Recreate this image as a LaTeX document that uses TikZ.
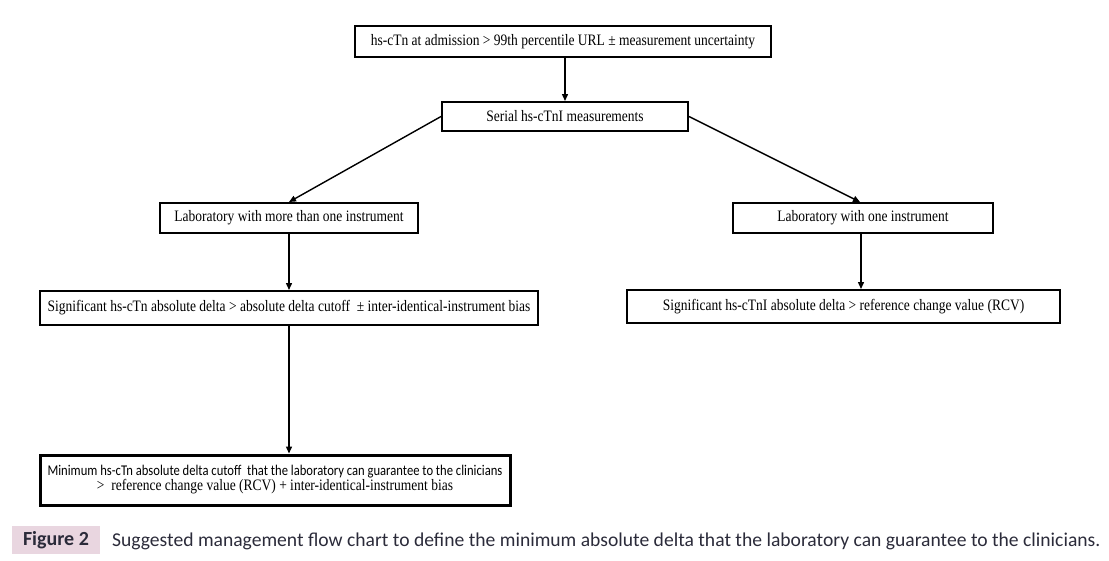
\documentclass[tikz,border=0pt]{standalone}
\usepackage{fontspec}
\usepackage{graphicx}
\setmainfont{Liberation Serif}
\newfontfamily\capfont{Carlito}
\usetikzlibrary{arrows.meta}
\definecolor{capbg}{HTML}{E9D6E0}
\definecolor{captext}{HTML}{2B2B3A}
\newcommand\tallt[1]{\scalebox{1}[1.18]{#1}}
\begin{document}
\begin{tikzpicture}[x=1pt,y=-1pt,
  box/.style={draw,line width=2pt,inner sep=0pt,font=\fontsize{13.5}{15}\selectfont},
  conn/.style={line width=1.4pt,-{Triangle[length=7pt,width=6pt]}}]
\useasboundingbox (0,0) rectangle (1109,560);
\node[box,minimum width=416,minimum height=31] (a) at (563,41.5) {\tallt{hs-cTn at admission > 99th percentile URL ± measurement uncertainty}};
\node[box,minimum width=246,minimum height=29] (b) at (565,116.5) {\tallt{Serial hs-cTnI measurements}};
\node[box,minimum width=258,minimum height=30] (c) at (289,218) {\tallt{Laboratory with more than one instrument}};
\node[box,minimum width=260,minimum height=30] (d) at (863,218) {\tallt{Laboratory with one instrument}};
\node[box,minimum width=498,minimum height=34] (e) at (289,308) {\tallt{Significant hs-cTn absolute delta > absolute delta cutoff\ \ ± inter-identical-instrument bias}};
\node[box,minimum width=433,minimum height=33] (f) at (843.5,306.5) {\tallt{Significant hs-cTnI absolute delta > reference change value (RCV)}};
\node[box,line width=3pt,minimum width=470,minimum height=50,align=center] (g) at (275,480) {\tallt{\capfont\fontsize{12.6}{15}\selectfont Minimum hs-cTn absolute delta cutoff\ \ that the laboratory can guarantee to the clinicians}\\[0pt] \tallt{>\ \ reference change value (RCV) + inter-identical-instrument bias}};
\draw[conn] (a.south -| 565,0) -- (b.north -| 565,0);
\draw[conn] (b.west) -- (c.north);
\draw[conn] (b.east) -- (c.north -| 860,0) ;
\draw[conn] (c.south) -- (e.north);
\draw[conn] (d.south -| 861,0) -- (f.north -| 861,0);
\draw[conn] (e.south) -- (g.north -| e.south);
\node[fill=capbg,minimum width=88,minimum height=28,inner sep=0pt,font=\capfont\bfseries\fontsize{20}{22}\selectfont,text=captext] (fig) at (56,540) {Figure 2};
\node[anchor=west,inner sep=0pt,font=\capfont\fontsize{19.6}{22}\selectfont,text=captext] (cap) at (112,541) {Suggested management flow chart to define the minimum absolute delta that the laboratory can guarantee to the clinicians.};
\end{tikzpicture}
\end{document}
